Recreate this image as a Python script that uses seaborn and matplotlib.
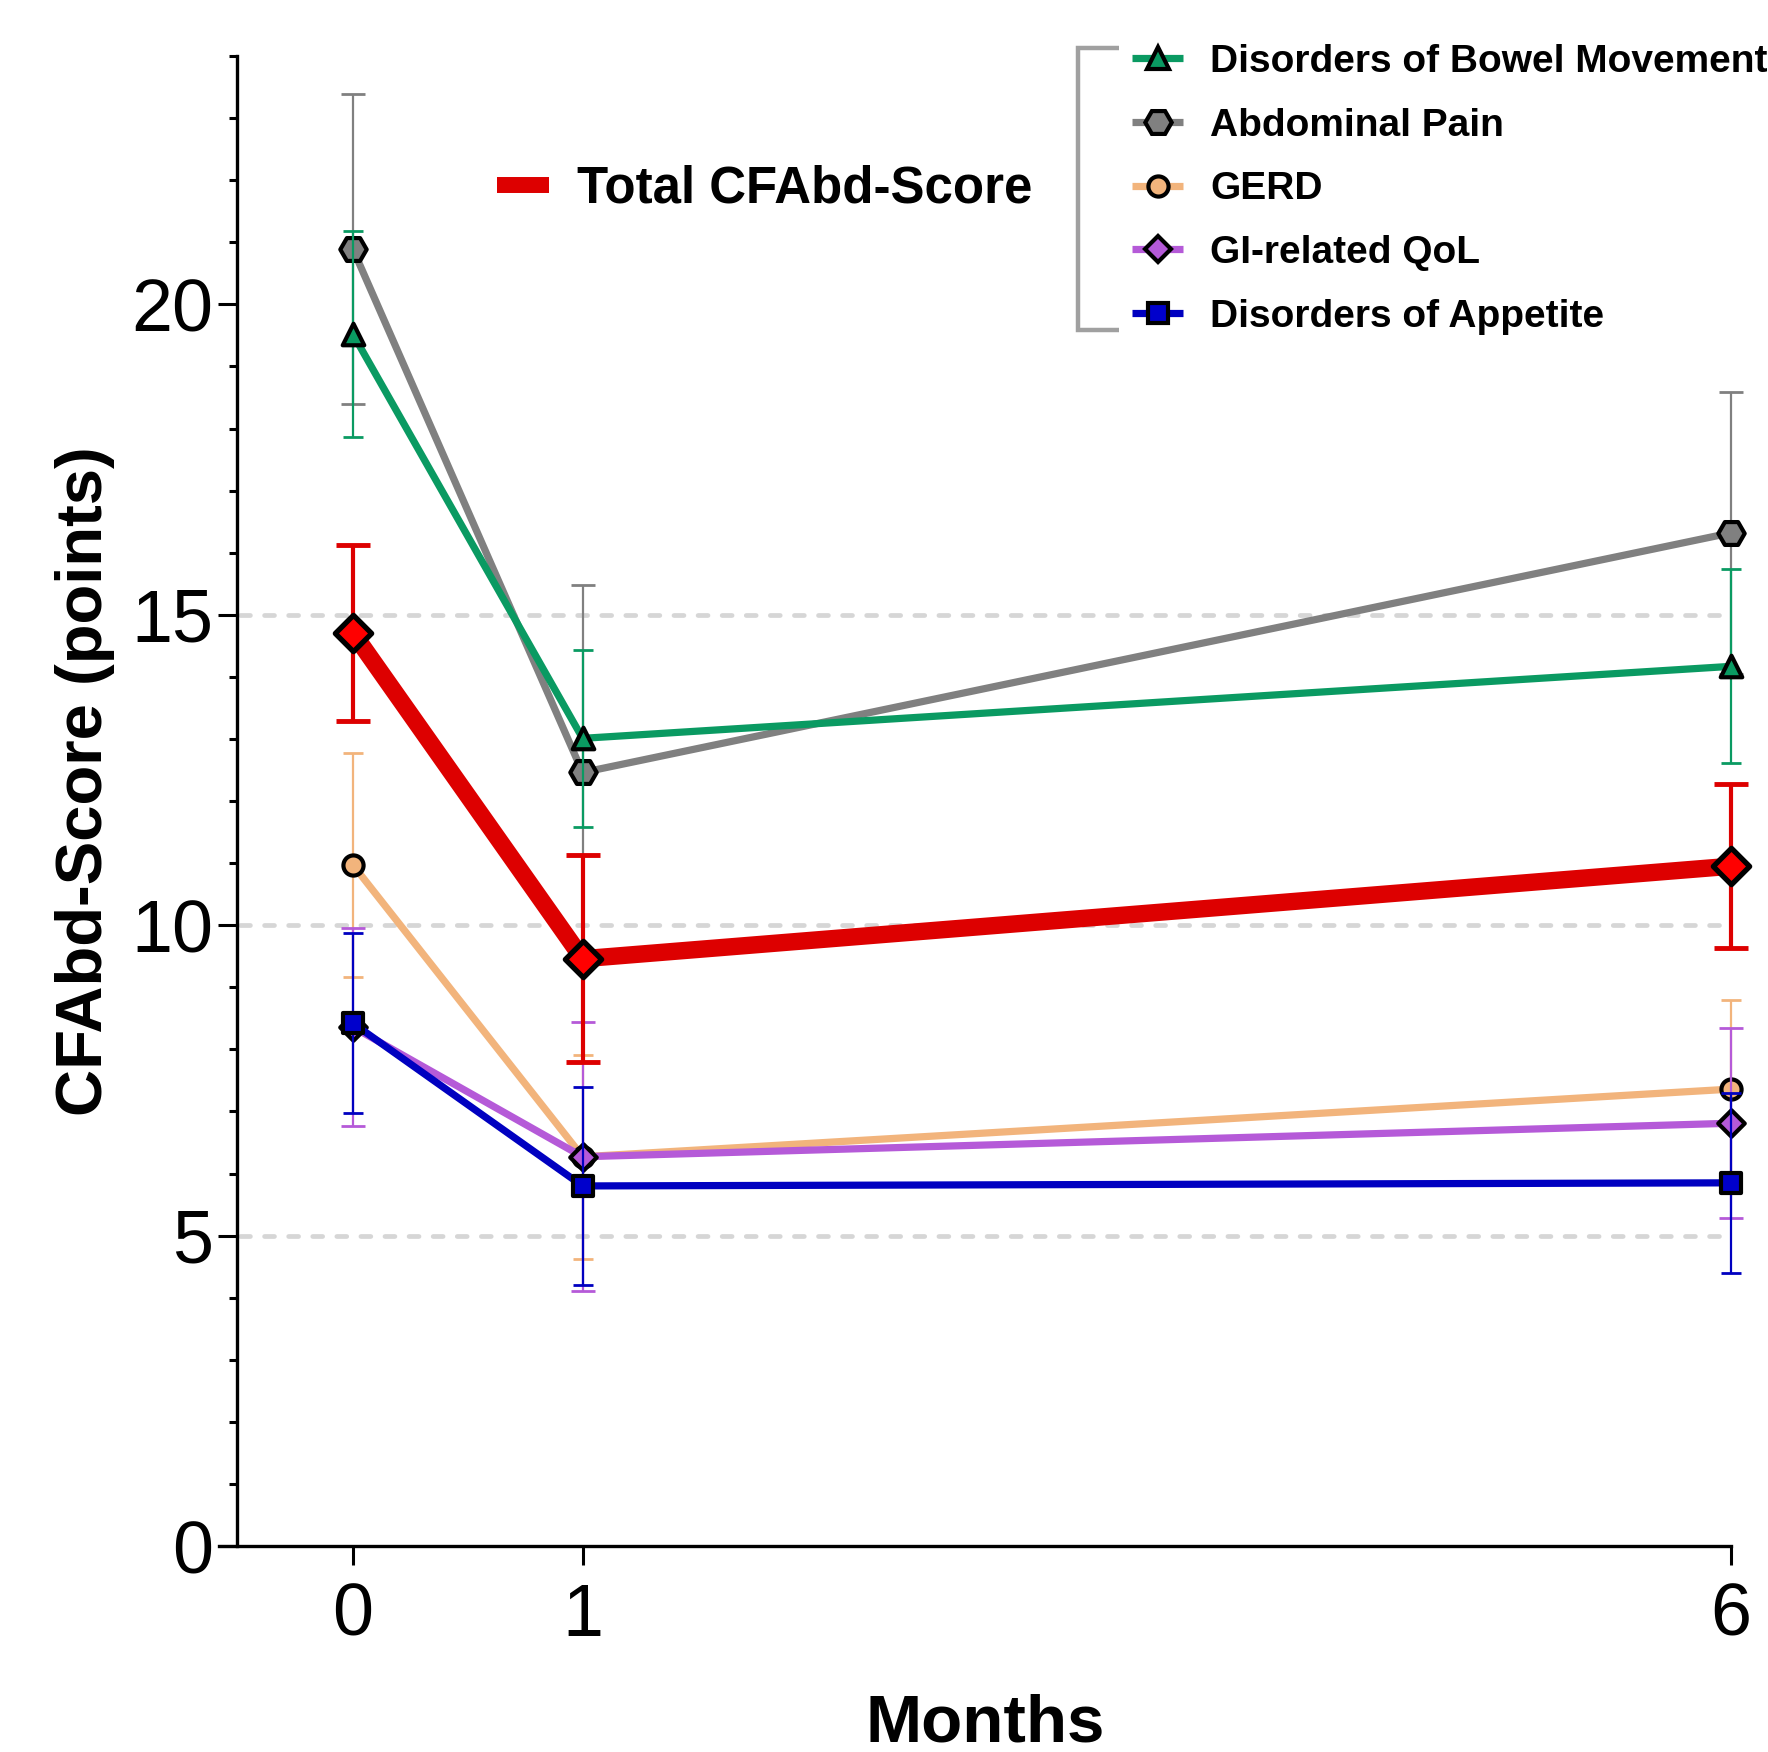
import numpy as np
import pandas as pd
import matplotlib
matplotlib.use("Agg")
import matplotlib.pyplot as plt
from matplotlib.lines import Line2D
import seaborn as sns

# ---------------- data ----------------
months = [0, 1, 6]
month_labels = ["0", "1", "6"]

total = [14.71, 9.46, 10.95]
total_err = [1.42, 1.67, 1.32]

bowel = [19.52, 13.01, 14.17]
bowel_err = [1.66, 1.43, 1.56]

pain = [20.89, 12.46, 16.32]
pain_err = [2.50, 3.02, 2.27]

gerd = [10.97, 6.27, 7.36]
gerd_err = [1.80, 1.64, 1.44]

qol = [8.36, 6.27, 6.81]
qol_err = [1.59, 2.17, 1.53]

appetite = [8.42, 5.80, 5.85]
appetite_err = [1.45, 1.60, 1.45]

y_major_ticks = [0, 5, 10, 15, 20]
grid_levels = [5, 10, 15]

legend_names = ["Disorders of Bowel Movement", "Abdominal Pain", "GERD",
                "GI-related QoL", "Disorders of Appetite"]
total_name = "Total CFAbd-Score"
x_label = "Months"
y_label = "CFAbd-Score (points)"

# ---------------- styles ----------------
styles = {
    "Disorders of Bowel Movement": dict(color="#0A9A62", fill="#0A9A62", marker="^", ms=15.5, cap=7.0),
    "Abdominal Pain": dict(color="#808080", fill="#808080", marker="H", ms=19.0, cap=8.8),
    "GERD": dict(color="#F2B47C", fill="#F2B47C", marker="o", ms=14.5, cap=7.0),
    "GI-related QoL": dict(color="#B55AD8", fill="#B55AD8", marker="D", ms=13.5, cap=8.8),
    "Disorders of Appetite": dict(color="#0000C0", fill="#0000CC", marker="s", ms=15.0, cap=7.0),
}
series_data = {
    "Disorders of Bowel Movement": (bowel, bowel_err),
    "Abdominal Pain": (pain, pain_err),
    "GERD": (gerd, gerd_err),
    "GI-related QoL": (qol, qol_err),
    "Disorders of Appetite": (appetite, appetite_err),
}
draw_order = ["Abdominal Pain", "Disorders of Bowel Movement", "GERD",
              "GI-related QoL", "Disorders of Appetite"]

sns.set_theme(style="ticks")
plt.rcParams["font.family"] = ["Liberation Sans", "DejaVu Sans"]

W, H = 1768, 1752
fig = plt.figure(figsize=(W / 100, H / 100), dpi=100)
ax = fig.add_axes([218.6 / W, (H - 1546) / H, (1731 - 218.6) / W, (1546 - 56.1) / H])
ax.set_xlim(-0.585, 6)
ax.set_ylim(0, 24)

# grid
gl = ax.hlines(grid_levels, -0.49, 5.97, colors="#D6D6D6", linewidth=3.4,
               linestyles=[(0, (2.1, 3.0))], zorder=1)
gl.set_capstyle("round")


def unclip_errorbar(container):
    for art in container.get_children():
        art.set_clip_on(False)


sub_lw = 5.2
mew = 3.0
z = 2
for name in draw_order:
    vals, errs = series_data[name]
    st = styles[name]
    df = pd.DataFrame({"month": months, "score": vals})
    sns.lineplot(data=df, x="month", y="score", color=st["color"], linewidth=sub_lw,
                 ax=ax, zorder=z, errorbar=None, legend=False, clip_on=False)
    eb = ax.errorbar(months, vals, yerr=errs, fmt="none", ecolor=st["color"], elinewidth=1.6,
                     capsize=st["cap"], capthick=2.0, zorder=z + 1)
    unclip_errorbar(eb)
    sns.scatterplot(data=df, x="month", y="score", marker=st["marker"], s=st["ms"] ** 2,
                    color=st["fill"], edgecolor="black", linewidth=mew, ax=ax,
                    zorder=z + 2, legend=False, clip_on=False)
    z += 3

# total score
df_t = pd.DataFrame({"month": months, "score": total})
sns.lineplot(data=df_t, x="month", y="score", color="#DD0000", linewidth=12.5,
             ax=ax, zorder=z, errorbar=None, legend=False, clip_on=False)
eb = ax.errorbar(months, total, yerr=total_err, fmt="none", ecolor="#DD0000", elinewidth=3.0,
                 capsize=12.0, capthick=3.5, zorder=z + 1)
unclip_errorbar(eb)
sns.scatterplot(data=df_t, x="month", y="score", marker="D", s=18.5 ** 2,
                color="#FF0000", edgecolor="black", linewidth=3.8, ax=ax,
                zorder=z + 2, legend=False, clip_on=False)

# axes styling
for s in ["top", "right"]:
    ax.spines[s].set_visible(False)
ax.spines["left"].set_position(("data", -0.505))
ax.spines["left"].set_linewidth(2.4)
ax.spines["bottom"].set_linewidth(2.4)
ax.spines["left"].set_color("black")
ax.spines["bottom"].set_color("black")

ax.set_yticks(y_major_ticks)
ax.set_yticklabels([str(v) for v in y_major_ticks])
ax.set_yticks(np.arange(0, 25, 1), minor=True)
ax.set_xticks(months)
ax.set_xticklabels(month_labels)
ax.tick_params(axis="y", which="major", length=13.7, width=2.2, labelsize=53, pad=3.5,
               color="black", labelcolor="black", direction="out", left=True)
ax.tick_params(axis="y", which="minor", length=6.0, width=2.2, color="black",
               direction="out", left=True)
ax.tick_params(axis="x", which="major", length=13.7, width=2.2, labelsize=53, pad=12,
               color="black", labelcolor="black", direction="out", bottom=True)
ax.tick_params(axis="x", which="minor", bottom=False)
ax.set_xlabel("")
ax.set_ylabel("")


def fx(px):
    return px / W


def fy(py):
    return 1 - py / H


fig.text(fx(84.6), fy(780.9), y_label, rotation=90, ha="center", va="center",
         fontsize=47, fontweight="bold", color="black")
fig.text(fx(985), fy(1742), x_label, ha="center", va="baseline",
         fontsize=48.5, fontweight="bold", color="black")

# total legend
fig.add_artist(Line2D([fx(496.7), fx(548.5)], [fy(184.7), fy(184.7)], color="#DD0000",
                      linewidth=11.5, solid_capstyle="butt", transform=fig.transFigure))
fig.text(fx(577), fy(202.7), total_name, ha="left", va="baseline",
         fontsize=36.7, fontweight="bold", color="black")

# bracket legend
fig.add_artist(Line2D([fx(1118.7), fx(1078), fx(1078), fx(1118.7)],
                      [fy(48.3), fy(48.3), fy(330), fy(330)], color="#A0A0A0",
                      linewidth=3.2, solid_capstyle="butt", solid_joinstyle="miter",
                      transform=fig.transFigure))
row0, step = 58.0, 63.75
for i, name in enumerate(legend_names):
    st = styles[name]
    ry = row0 + i * step
    fig.add_artist(Line2D([fx(1132), fx(1183)], [fy(ry), fy(ry)], color=st["color"],
                          linewidth=sub_lw, solid_capstyle="butt", transform=fig.transFigure))
    fig.add_artist(Line2D([fx(1157.5)], [fy(ry)], linestyle="none", marker=st["marker"],
                          markersize=st["ms"], markerfacecolor=st["fill"],
                          markeredgecolor="black", markeredgewidth=mew,
                          transform=fig.transFigure))
    fig.text(fx(1210.5), fy(ry + 13.8), name, ha="left", va="baseline",
             fontsize=28, fontweight="bold", color="black")

fig.savefig("out.png", dpi=100)
